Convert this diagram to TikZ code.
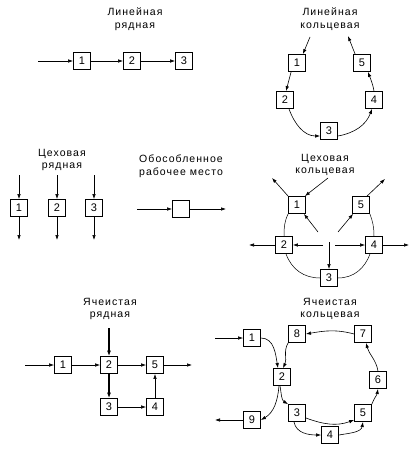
\documentclass[tikz,border=0pt]{standalone}
\usepackage{fontspec}
\setmainfont{Liberation Sans}
\newfontfamily\ttlfont{Liberation Sans}[LetterSpace=10]
\usetikzlibrary{arrows.meta}
\begin{document}
\begin{tikzpicture}[x=1pt,y=-1pt,
  box/.style={draw, line width=0.8pt, minimum size=17pt, inner sep=0pt, font=\fontsize{11}{11}\selectfont, fill=white},
  arr/.style={-{Latex[length=5pt,width=3.5pt]}, line width=0.6pt},
  thk/.style={-{Latex[length=5.5pt,width=4pt]}, line width=1.1pt},
  ln/.style={line width=0.5pt},
  ttl/.style={align=center, font=\ttlfont\fontsize{10.5}{12.5}\selectfont}]
\useasboundingbox (0,0) rectangle (415,455);

% ---------- Linear row
\node[ttl] (t1) at (135,19) {Линейная\\рядная};
\node[box] (a1) at (82,61) {1};
\node[box] (a2) at (132,61) {2};
\node[box] (a3) at (184,61) {3};
\coordinate (a0) at (38,61);
\draw[arr] (a0) -- (a1);
\draw[arr] (a1) -- (a2);
\draw[arr] (a2) -- (a3);

% ---------- Linear ring
\node[ttl] (t2) at (330,19) {Линейная\\кольцевая};
\node[box] (b1) at (297,63) {1};
\node[box] (b2) at (285,100) {2};
\node[box] (b3) at (329,131) {3};
\node[box] (b4) at (374,100) {4};
\node[box] (b5) at (362,63) {5};
\coordinate (b0) at (310,37);
\coordinate (b6) at (348,36);
\draw[arr] (b0) -- ([xshift=-3pt]b1.north east);
\draw[arr] ([xshift=2pt]b5.north west) -- (b6);
\draw[arr] ([xshift=3pt]b1.south west) -- ([xshift=1pt]b2.north);
\draw[arr] ([xshift=4pt]b2.south) to[out=-70,in=180] ([yshift=-5pt]b3.west);
\draw[arr] ([yshift=-5pt]b3.east) to[out=10,in=-110] ([xshift=-2pt]b4.south);
\draw[arr] (b4.north) to[out=100,in=-70] ([xshift=6pt]b5.south);

% ---------- Shop row
\node[ttl] (t3) at (62,160) {Цеховая\\рядная};
\node[box] (c1) at (19,208) {1};
\node[box] (c2) at (57,208) {2};
\node[box] (c3) at (94,208) {3};
\foreach \n in {1,2,3}{
  \coordinate (c\n t) at (c\n |- 0,175);
  \coordinate (c\n b) at (c\n |- 0,240);
  \draw[arr] (c\n t) -- (c\n.north);
  \draw[arr] (c\n.south) -- (c\n b);
}

% ---------- Isolated workplace
\node[ttl] (t4) at (181,166) {Обособленное\\рабочее место};
\node[box] (g) at (181,209) {};
\coordinate (g0) at (137,209);
\coordinate (g1) at (226,209);
\draw[arr] (g0) -- (g);
\draw[arr] (g) -- (g1);

% ---------- Shop ring
\node[ttl] (t5) at (325,165) {Цеховая\\кольцевая};
\node[box] (d1) at (297,205) {1};
\node[box] (d5) at (361,205) {5};
\node[box] (d2) at (284,245) {2};
\node[box] (d4) at (374,245) {4};
\node[box] (d3) at (329,278) {3};
\coordinate (d1o) at (272,178);
\coordinate (d1i) at (328,178);
\coordinate (d1c) at (318,232);
\coordinate (d5o) at (385,179);
\coordinate (d5c) at (338,232);
\coordinate (dcv) at (329,242);
\coordinate (dcl) at (323,245);
\coordinate (dcr) at (335,245);
\coordinate (d2o) at (249,245);
\coordinate (d4o) at (409,245);
\draw[arr] (d1.north west) -- (d1o);
\draw[arr] (d1i) -- ([xshift=-1pt]d1.north east);
\draw[arr] (d1c) -- ([xshift=-2pt]d1.south east);
\draw[arr] ([xshift=6pt]d5.north) -- (d5o);
\draw[arr] (d5c) -- ([xshift=1pt]d5.south west);
\draw[arr] (dcv) -- (d3.north);
\draw[arr] (dcl) -- (d2.east);
\draw[arr] (dcr) -- (d4.west);
\draw[arr] (d2.west) -- (d2o);
\draw[arr] (d4.east) -- (d4o);
\draw[ln] (d1.south west) to[out=-115,in=90] (d2.north);
\draw[ln] ([xshift=2pt]d2.south) to[out=-70,in=180] (d3.west);
\draw[ln] (d3.east) to[out=0,in=-110] ([xshift=-4pt]d4.south);
\draw[ln] (d4.north) to[out=90,in=-70] (d5.south east);

% ---------- Cell row
\node[ttl] (t6) at (110,309) {Ячеистая\\рядная};
\node[box] (e1) at (63,365) {1};
\node[box] (e2) at (109,365) {2};
\node[box] (e5) at (155,365) {5};
\node[box] (e3) at (109,407) {3};
\node[box] (e4) at (155,407) {4};
\coordinate (e0) at (25,365);
\coordinate (e6) at (192,365);
\coordinate (e7) at (109,328);
\draw[arr] (e0) -- (e1);
\draw[arr] (e1) -- (e2);
\draw[arr] (e2) -- (e5);
\draw[arr] (e5) -- (e6);
\draw[thk] (e7) -- (e2);
\draw[thk] (e2) -- (e3);
\draw[arr] (e3) -- (e4);
\draw[arr] (e4) -- (e5);

% ---------- Cell ring
\node[ttl] (t7) at (330,309) {Ячеистая\\кольцевая};
\node[box] (f1) at (252,338) {1};
\node[box] (f8) at (297,334) {8};
\node[box] (f7) at (363,334) {7};
\node[box] (f2) at (282,377) {2};
\node[box] (f6) at (378,380) {6};
\node[box] (f3) at (297,413) {3};
\node[box] (f5) at (363,413) {5};
\node[box] (f9) at (252,420) {9};
\node[box] (f4) at (330,435) {4};
\coordinate (f0) at (215,338);
\coordinate (f10) at (215,420);
\draw[arr] (f0) -- (f1);
\draw[arr] (f9) -- (f10);
\draw[arr] (f1.east) to[out=0,in=100] ([xshift=-4pt]f2.north);
\draw[arr] (f8.south west) to[out=-120,in=65] ([xshift=1pt]f2.north);
\draw[arr] (f7.west) to[out=165,in=10] (f8.east);
\draw[arr] (f6.north) to[out=100,in=-75] ([xshift=3pt]f7.south);
\draw[arr] (f5.north east) to[out=70,in=-100] (f6.south);
\draw[arr] ([xshift=-2pt]f2.south) to[out=-80,in=150] (f3.north west);
\draw[arr] ([xshift=-3pt]f2.south) to[out=-95,in=30] (f9.east);
\draw[arr] ([yshift=-5pt]f3.east) to[out=-20,in=-160] ([yshift=-7pt]f5.west);
\draw[arr] ([xshift=-3pt]f3.south) to[out=-80,in=180] (f4.west);
\draw[arr] (f4.east) to[out=10,in=-100] (f5.south);
\end{tikzpicture}
\end{document}
